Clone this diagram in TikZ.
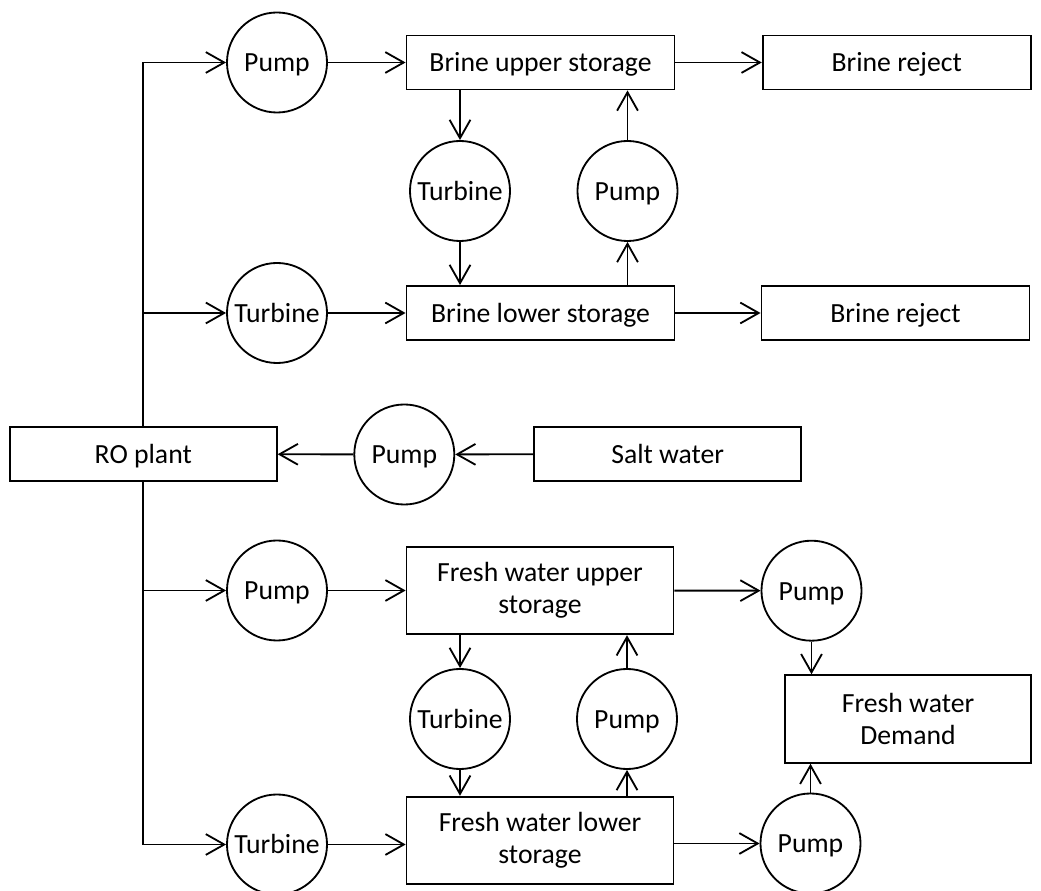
\documentclass[tikz,border=0pt]{standalone}
\usepackage{fontspec}
\setmainfont{Carlito}
\usetikzlibrary{arrows.meta}
\begin{document}
\begin{tikzpicture}[x=0.025cm,y=-0.025cm,
  base/.style={font=\fontsize{19.7}{22.8}\selectfont, line width=1.3pt, draw, fill=white, text height=13.3pt, text depth=0pt},
  box/.style={base, rectangle, inner sep=0pt, align=center, minimum width=6.7cm, minimum height=1.35cm},
  tallbox/.style={box, minimum height=2.19cm, text height={}, text depth={}},
  unit/.style={base, circle, minimum size=2.5cm, inner sep=0pt},
  arr/.style={-{Straight Barb[length=4.6mm,width=5.2mm]}, line width=1.3pt}]
\useasboundingbox (0,0) rectangle (1041,891);

% boxes
\node[box, minimum width=6.67cm] (ro) at (143.3,454) {RO plant};
\node[box] (bu) at (540.5,62.5) {Brine upper storage};
\node[box] (br1) at (896.7,62.5) {Brine reject};
\node[box] (bl) at (540.5,313) {Brine lower storage};
\node[box] (br2) at (895.5,313) {Brine reject};
\node[box, minimum width=6.675cm] (sw) at (667.7,454) {Salt water};
\node[tallbox, minimum width=6.67cm] (fu) at (540,590.5) {Fresh water upper\\storage};
\node[tallbox, minimum width=6.67cm] (fl) at (540,840.5) {Fresh water lower\\storage};
\node[tallbox, minimum width=6.15cm] (fd) at (908,719) {Fresh water\\Demand};

% circles
\node[unit] (p1) at (277,62.5) {Pump};
\node[unit] (t1) at (277,313) {Turbine};
\node[unit] (tb) at (460,191) {Turbine};
\node[unit] (pb) at (627.5,191) {Pump};
\node[unit] (p2) at (404.3,454.5) {Pump};
\node[unit] (p3) at (277,590.5) {Pump};
\node[unit] (pfr) at (811.5,590.7) {Pump};
\node[unit] (tf) at (460,719) {Turbine};
\node[unit] (pf) at (627,719) {Pump};
\node[unit] (t2) at (277,844.5) {Turbine};
\node[unit] (pfr2) at (810.5,843.5) {Pump};

% trunk from RO plant
\draw[arr] (ro.north) |- (p1);
\draw[arr] (ro.north) |- (t1);
\draw[arr] (ro.south) |- (p3);
\draw[arr] (ro.south) |- (t2);

% brine branch
\draw[arr] (p1) -- (bu);
\draw[arr] (bu) -- (br1);
\draw[arr] (tb |- bu.south) -- (tb);
\draw[arr] (tb) -- (tb |- bl.north);
\draw[arr] (pb) -- (pb |- bu.south);
\draw[arr] (pb |- bl.north) -- (pb);
\draw[arr] (t1) -- (bl);
\draw[arr] (bl) -- (br2);

% salt water
\draw[arr] (sw) -- (p2);
\draw[arr] (p2) -- (ro);

% fresh water branch
\draw[arr] (p3) -- (fu);
\draw[arr] (fu) -- (pfr);
\draw[arr] (pfr) -- (pfr |- fd.north);
\draw[arr] (tf |- fu.south) -- (tf);
\draw[arr] (tf) -- (tf |- fl.north);
\draw[arr] (pf) -- (pf |- fu.south);
\draw[arr] (pf |- fl.north) -- (pf);
\draw[arr] (t2) -- (t2 -| fl.west);
\draw[arr] (fl.east |- pfr2) -- (pfr2);
\draw[arr] (pfr2) -- (pfr2 |- fd.south);
\end{tikzpicture}
\end{document}
